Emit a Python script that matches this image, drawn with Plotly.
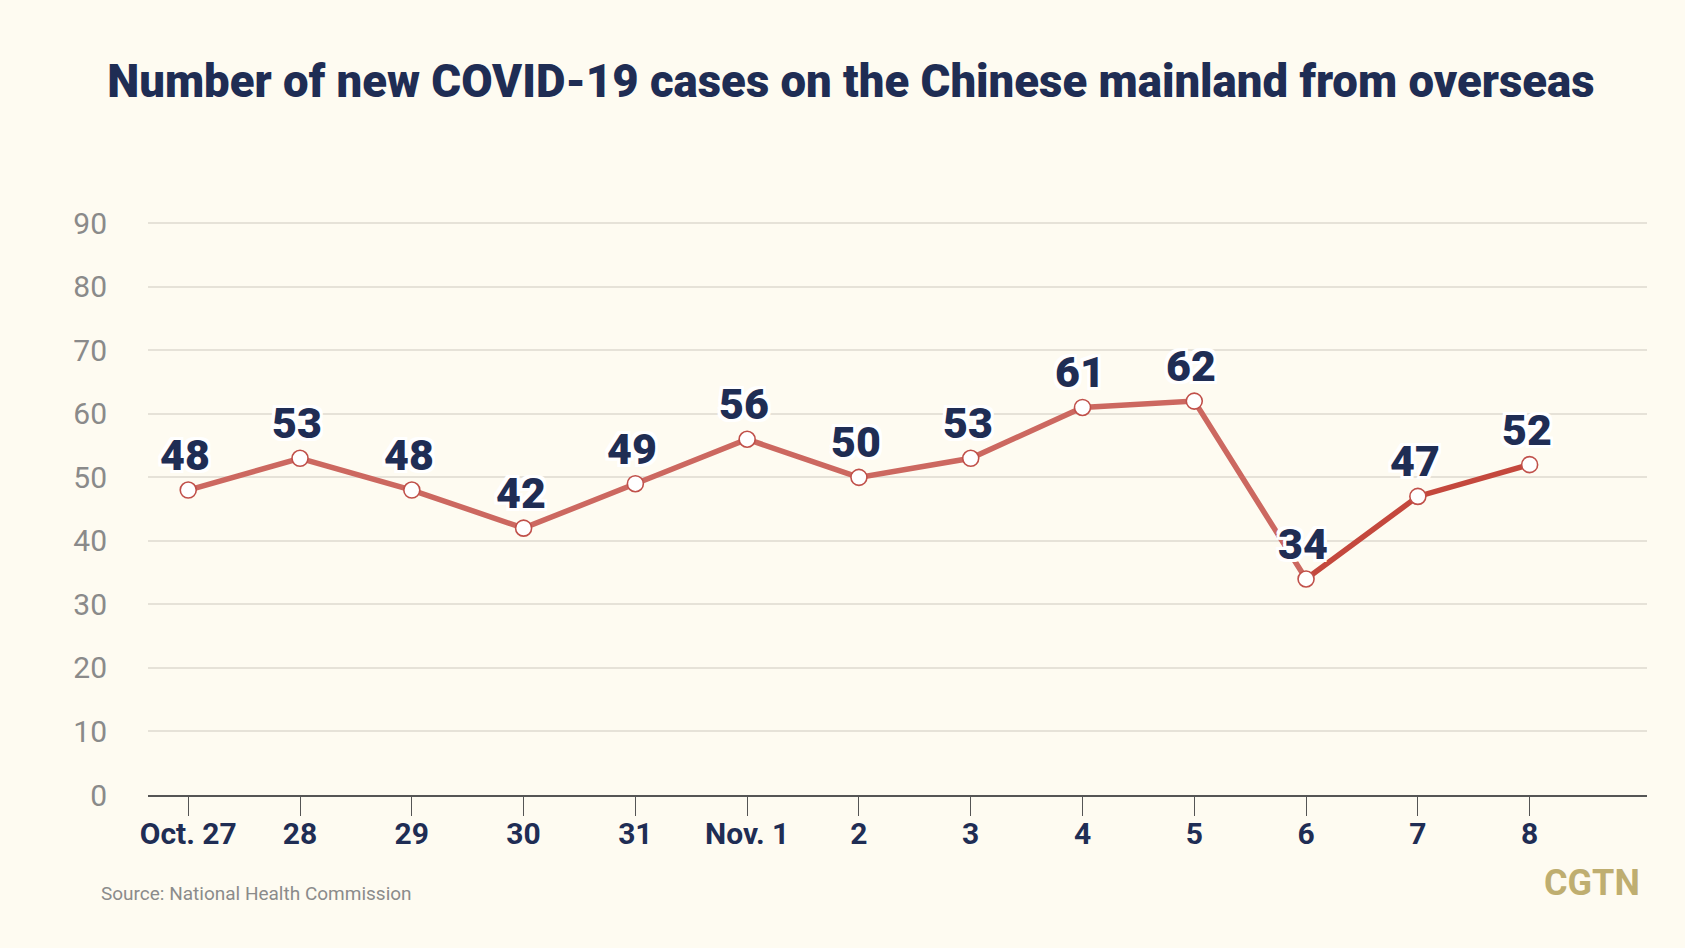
import plotly.graph_objects as go

dates = ["Oct. 27", "28", "29", "30", "31", "Nov. 1", "2", "3", "4", "5", "6", "7", "8"]
cases = [48, 53, 48, 42, 49, 56, 50, 53, 61, 62, 34, 47, 52]
y_ticks = [0, 10, 20, 30, 40, 50, 60, 70, 80, 90]

BG = "#fefbf1"
NAVY = "#1f2d54"
LIGHT_RED = "#cc6860"
DARK_RED = "#c4483d"

idx = list(range(len(dates)))
split = 10  # Nov. 6 onward drawn in the darker red

fig = go.Figure()
fig.add_trace(go.Scatter(
    x=idx[:split + 1], y=cases[:split + 1], mode="lines",
    line=dict(color=LIGHT_RED, width=5.5), hoverinfo="skip", showlegend=False))
fig.add_trace(go.Scatter(
    x=idx[split:], y=cases[split:], mode="lines",
    line=dict(color=DARK_RED, width=5.5), hoverinfo="skip", showlegend=False))
fig.add_trace(go.Scatter(
    x=idx, y=cases, mode="markers",
    marker=dict(size=16, color="white", line=dict(color="#c0504a", width=1.6)),
    showlegend=False))

halo = ("3px 3px 0px #ffffff, -3px -3px 0px #ffffff, 3px -3px 0px #ffffff, "
        "-3px 3px 0px #ffffff, 0px 3px 0px #ffffff, 0px -3px 0px #ffffff, "
        "3px 0px 0px #ffffff, -3px 0px 0px #ffffff")
for i, v in zip(idx, cases):
    fig.add_annotation(
        x=i, y=v, text=str(v), showarrow=False, yshift=35, xshift=-3,
        font=dict(family="Roboto, Lato, sans-serif", size=43, color=NAVY,
                  weight=900, shadow=halo))

fig.add_annotation(
    xref="paper", yref="paper", x=-0.0327, y=-0.171, xanchor="left", yanchor="middle",
    text="Source: National Health Commission", showarrow=False,
    font=dict(family="Roboto, sans-serif", size=19, color="#8b8b8b"))
fig.add_annotation(
    xref="paper", yref="paper", x=0.9967, y=-0.154, xanchor="right", yanchor="middle",
    text="CGTN", showarrow=False,
    font=dict(family="Roboto, sans-serif", size=36, color="#bfae70", weight="bold"))

fig.update_layout(
    width=1685, height=948,
    paper_bgcolor=BG, plot_bgcolor=BG,
    margin=dict(l=148, r=38, t=221, b=153),
    title=dict(
        text="Number of new COVID-19 cases on the Chinese mainland from overseas",
        xref="container", yref="container", x=0.505, y=1 - 81 / 948,
        xanchor="center", yanchor="middle",
        font=dict(family="Roboto, sans-serif", size=45.5, color=NAVY, weight=900)),
    xaxis=dict(
        range=[-0.36, 13.05], tickmode="array", tickvals=idx, ticktext=dates,
        showgrid=False, zeroline=False, showline=True, linecolor="#555555", linewidth=1.5,
        ticks="outside", ticklen=19, tickwidth=1.3, tickcolor="#555555",
        ticklabelstandoff=-8,
        tickfont=dict(family="Roboto, sans-serif", size=30, color=NAVY, weight="bold")),
    yaxis=dict(
        range=[0, 90.35], tickmode="array", tickvals=y_ticks,
        showgrid=True, gridcolor="#e6e2d8", gridwidth=1.5, zeroline=False, showline=False,
        ticks="", ticklabelstandoff=40,
        tickfont=dict(family="Roboto, sans-serif", size=30, color="#8a8a8a")),
)

fig.write_html("out.html")
